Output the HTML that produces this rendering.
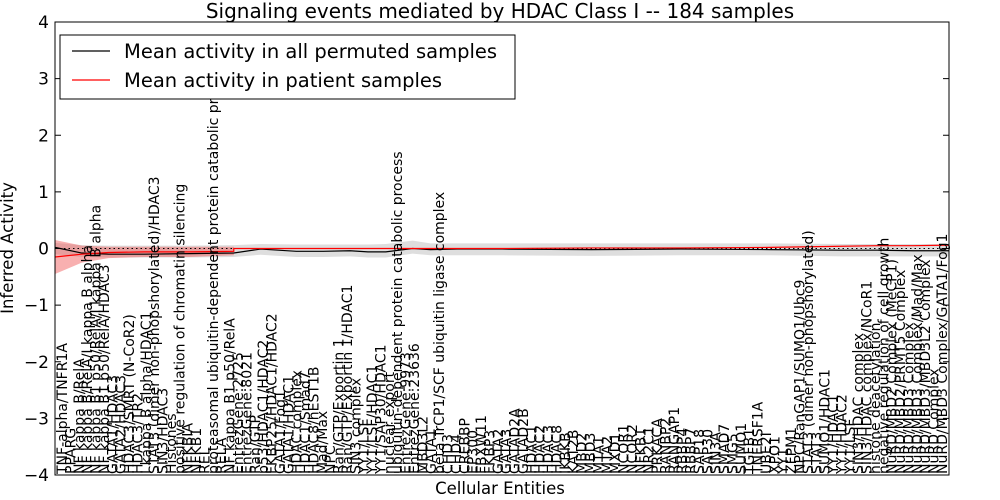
<!DOCTYPE html>
<html><head><meta charset="utf-8"><style>
body{margin:0;background:#fff}
svg{display:block;font-family:"DejaVu Sans","Liberation Sans",sans-serif}
</style></head><body>
<svg id="c" width="1000" height="500"></svg>
<script>
const yTicks=[4,3,2,1,0,-1,-2,-3,-4];
const entities=["TNF-alpha/TNFR1A","PPARG","NF kappa B/RelA","NF kappa B/RelA/I kappa B alpha","NF kappa B1 p50/RelA/I kappa B alpha","NF kappa B1 p50/RelA/HDAC3","GATA1/HDAC3","GATA2/HDAC3","HDAC3/SMRT (N-CoR2)","HDAC3/TR2","I kappa B alpha/HDAC1","STAT3 (dimer non-phopshorylated)/HDAC3","SIN3/HDAC3","Histones","positive regulation of chromatin silencing","NFKBIA","NFKB1","REL","proteasomal ubiquitin-dependent protein catabolic process","RELA","NF kappa B1 p50/RelA","EntrezGene:2725","EntrezGene:8021","Ran/GTP","p53/HDAC1/HDAC2","FKBP25/HDAC1/HDAC2","GATA1/Fog1","GATA1/HDAC1","HDAC complex","HDAC1/Smad7","HDAC8/hEST1B","Mad/Max","NPC","Ran/GTP/Exportin 1","Ran/GTP/Exportin 1/HDAC1","SIN3 complex","YY1/LSF","YY1/LSF/HDAC1","YY1/SAP30/HDAC1","nuclear export","ubiquitin-dependent protein catabolic process","EntrezGene:9973","EntrezGene:23636","MBD3L2","GATA1","beta TrCP1/SCF ubiquitin ligase complex","CHD3","CHD4","CREBBP","EP300","FBXW11","FKBP3","GATA2","GATA3","GATAD2A","GATAD2B","HDAC1","HDAC2","HDAC3","HDAC8","IKBKB","KAT2B","MBD2","MBD3","MTA1","MTA2","MXD1","NCOR1","NCOR2","NFKB1","NR2C1","PRKACA","RANBP2","RANGAP1","RBBP4","RBBP7","SAP18","SAP30","SIN3A","SMAD7","SMG5","SUMO1","TGFB1","TNFRSF1A","UBE2I","XPO1","YY1","ZFPM1","NPC/RanGAP1/SUMO1/Ubc9","STAT3 (dimer non-phopshorylated)","STAT3","SUMO1/HDAC1","YY1/HDAC1","YY1/HDAC2","YY1/LSF","SIN3/HDAC complex","SIN3/HDAC complex/NCoR1","histone deacetylation","negative regulation of cell growth","NuRD/MBD2 Complex (MeCP1)","NuRD/MBD2/PRMT5 Complex","NuRD/MBD3 Complex","NuRD/MBD3 Complex/Mad/Max","NuRD/MBD3/MBD3L2 Complex","NuRD Complex","NuRD/MBD3 Complex/GATA1/Fog1"];
const meanPos=[0,0.03,0.06,0.1,0.15,0.2,0.2,0.23,0.27,0.3,0.33,0.35,0.37,0.4,0.42,0.45,0.5,0.6,0.7,0.8,0.88,0.92,0.96,1];
const permMean=[0.02,-0.08,-0.1,-0.1,-0.09,-0.08,-0.08,-0.01,-0.05,-0.05,-0.04,-0.06,-0.06,0.0,-0.02,-0.01,-0.01,-0.02,-0.01,-0.02,-0.03,-0.03,-0.04,-0.04];
const permHi=[0.1,0.06,0.05,0.05,0.05,0.06,0.06,0.08,0.07,0.07,0.07,0.07,0.08,0.14,0.09,0.09,0.09,0.09,0.09,0.09,0.08,0.08,0.08,0.08];
const permLo=[-0.1,-0.15,-0.16,-0.16,-0.16,-0.15,-0.15,-0.11,-0.15,-0.15,-0.14,-0.16,-0.16,-0.09,-0.12,-0.12,-0.12,-0.13,-0.12,-0.12,-0.14,-0.14,-0.14,-0.14];
const patPos=[0,0.03,0.06,0.1,0.15,0.2,0.2,0.3,0.4,0.5,0.6,0.7,0.8,0.88,0.92,0.96,1];
const patMean=[-0.15,-0.1,-0.07,-0.06,-0.06,-0.05,0.0,0.0,0.0,0.0,0.01,0.01,0.02,0.04,0.05,0.05,0.06];
const patHi=[0.15,0.05,0.03,0.03,0.03,0.03,0.0,0.0,0.0,0.0,0.01,0.01,0.02,0.04,0.05,0.05,0.06];
const patLo=[-0.45,-0.25,-0.17,-0.15,-0.15,-0.12,0.0,0.0,0.0,0.0,0.01,0.01,0.02,0.04,0.05,0.05,0.06];

const NS="http://www.w3.org/2000/svg";
const svg=document.getElementById('c');
const L=55,R=949,T=22,B=475;
const yS=v=>T+(4-v)/8*(B-T);
const xF=f=>L+f*(R-L);
function mk(t,a,p){const e=document.createElementNS(NS,t);for(const k in a)e.setAttribute(k,a[k]);(p||svg).appendChild(e);return e;}

let t=mk('text',{x:500,y:18,'text-anchor':'middle','font-size':20});t.textContent="Signaling events mediated by HDAC Class I -- 184 samples";



function band(pos,hi,lo,fill,name){
  let d='M'+pos.map((p,i)=>xF(p)+','+yS(hi[i])).join('L')+'L'+pos.map((p,i)=>xF(p)+','+yS(lo[i])).reverse().join('L')+'Z';
  const e=mk('path',{d:d,fill:fill,stroke:'none'});
  
  
}
band(meanPos,permHi,permLo,'rgba(190,190,190,0.5)','permuted-band');
band(patPos.slice(0,7),patHi.slice(0,7),patLo.slice(0,7),'rgba(240,80,80,0.45)','patient-band');
let z=mk('line',{x1:L,x2:R,y1:yS(0),y2:yS(0),stroke:'#000','stroke-dasharray':'1.5,3','stroke-width':1});


function line(pos,v,col,name){
  const e=mk('polyline',{points:pos.map((p,i)=>xF(p)+','+yS(v[i])).join(' '),fill:'none',stroke:col,'stroke-width':1.2});
  
  
}
line(meanPos,permMean,'#000','permuted-mean-line');
line(patPos,patMean,'#f00','patient-mean-line');

let f=mk('rect',{x:L,y:T,width:R-L,height:B-T,fill:'none',stroke:'#000','stroke-width':1});


yTicks.forEach(v=>{
  mk('line',{x1:L,x2:L+6,y1:yS(v),y2:yS(v),stroke:'#000'});
  mk('line',{x1:R-6,x2:R,y1:yS(v),y2:yS(v),stroke:'#000'});
  const tx=mk('text',{x:L-6,y:yS(v)+6,'text-anchor':'end','font-size':17});
  tx.textContent=(v<0?'\u2212':'')+Math.abs(v);
  
  
});
const n=entities.length, x0=62, x1=942;
entities.forEach((s,i)=>{
  const x=x0+i*(x1-x0)/(n-1);
  const tx=mk('text',{transform:`translate(${x+5},${B-1}) rotate(-90)`,'font-size':14});
  tx.textContent=s;
  
  
});
let yl=mk('text',{transform:'translate(13,248) rotate(-90)','text-anchor':'middle','font-size':16.5});yl.textContent="Inferred Activity";


let xl=mk('text',{x:500,y:494,'text-anchor':'middle','font-size':16.5});xl.textContent="Cellular Entities";


const g=mk('g',{});


mk('rect',{x:60,y:35,width:455,height:64,fill:'#fff',stroke:'#000'},g);
mk('line',{x1:72,x2:110,y1:51,y2:51,stroke:'#000','stroke-width':1.2},g);
mk('line',{x1:72,x2:110,y1:80,y2:80,stroke:'#f00','stroke-width':1.2},g);
let l1=mk('text',{x:124,y:58,'font-size':19.5},g);l1.textContent="Mean activity in all permuted samples";


let l2=mk('text',{x:124,y:87,'font-size':19.5},g);l2.textContent="Mean activity in patient samples";


</script>
</body></html>
